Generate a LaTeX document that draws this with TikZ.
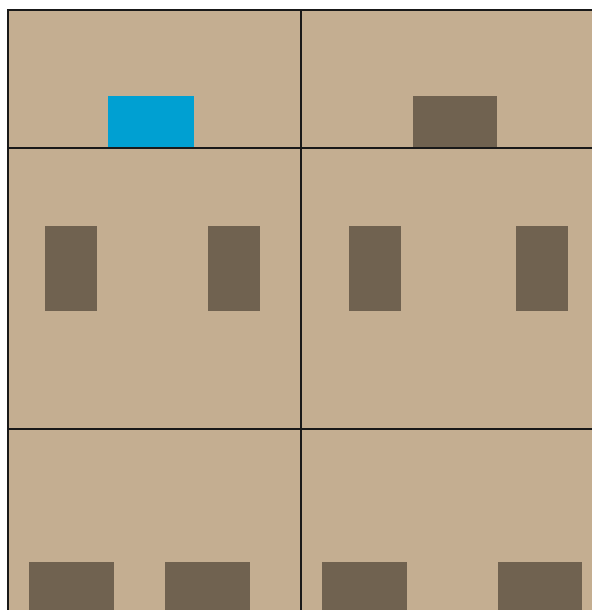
\documentclass[tikz,border=0pt]{standalone}
\usepackage{tikz}
\usepackage{xcolor}
\definecolor{WallTan}{RGB}{196,174,145}
\definecolor{BlockBrown}{RGB}{112,98,80}
\definecolor{DoorBlue}{RGB}{0,160,210}
\usetikzlibrary{positioning}

\begin{document}
\begin{tikzpicture}[x=1pt, y=-1pt]
    \tikzset{
        floor/.style={fill=WallTan, draw=none},
        block/.style={fill=BlockBrown, draw=none},
        door/.style={fill=DoorBlue, draw=none},
        wall/.style={draw=black!90, line width=2.6pt}
    }
    \useasboundingbox (0,0) rectangle (592,610);
    \fill[floor] (8,10) rectangle (592,610);
    % top row
    \fill[door] (108,96) rectangle (194,148);
    \fill[block] (413,96) rectangle (497,148);
    % middle row
    \fill[block] (45,226) rectangle (97,311);
    \fill[block] (208,226) rectangle (260,311);
    \fill[block] (349,226) rectangle (401,311);
    \fill[block] (516,226) rectangle (568,311);
    % bottom row
    \fill[block] (29,562) rectangle (114,610);
    \fill[block] (165,562) rectangle (250,610);
    \fill[block] (322,562) rectangle (407,610);
    \fill[block] (498,562) rectangle (582,610);
    % walls
    \draw[wall] (8,610) -- (8,10) -- (592,10);
    \draw[wall] (8,148) -- (592,148);
    \draw[wall] (8,429) -- (592,429);
    \draw[wall] (301,10) -- (301,610);
\end{tikzpicture}
\end{document}
